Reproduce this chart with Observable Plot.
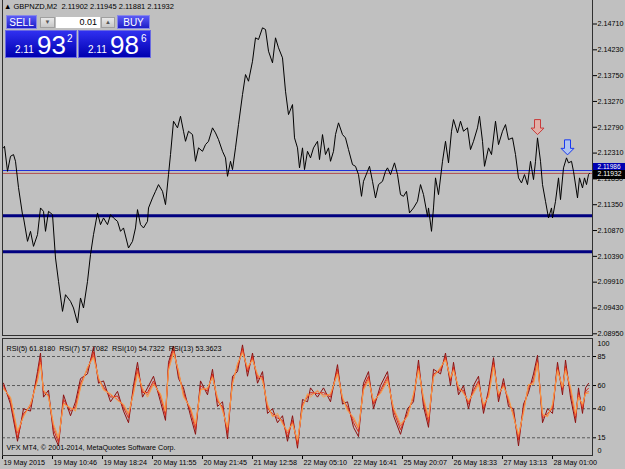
<!DOCTYPE html>
<html><head><meta charset="utf-8">
<script src="https://cdn.jsdelivr.net/npm/d3@7"></script>
<script src="https://cdn.jsdelivr.net/npm/@observablehq/plot@0.6"></script>
<style>
body{margin:0;background:#c0c0c0;}
#wrap{position:relative;width:625px;height:469px;background:#c0c0c0;overflow:hidden;font-family:"Liberation Sans",Arial,sans-serif;}
#wrap svg{position:absolute;left:0;}
.a{position:absolute;box-sizing:border-box;}
.btn{background:linear-gradient(#5a5af5,#1e1ec8);color:#fff;font-size:10px;text-align:center;line-height:13px;border:1px solid #8888e8;}
.small{background:linear-gradient(#e8e8e8,#c8c8c8);border:1px solid #a0a0a0;font-size:6px;text-align:center;line-height:9px;color:#555;}
.box{background:linear-gradient(#3030f0,#0000b0);border:1px solid #6a6ae0;color:#fff;}
</style></head><body><div id="wrap"></div>
<script>
// ---- data ----
const symbolTitle = "GBPNZD,M2  2.11902 2.11945 2.11881 2.11932";
const priceTicks = [2.14710,2.14230,2.13750,2.13270,2.12790,2.12310,2.11830,2.11350,2.10870,2.10390,2.09910,2.09430,2.08950];
const priceBar = [1,2,5,8,11,13,16,20,21,25,28,31,35,38,41,43,46,50,53,56,60,63,68,71,75,78,81,85,88,91,95,98,101,105,108,111,115,118,121,126,130,133,135,138,141,145,146,150,153,156,160,163,166,168,171,175,178,181,183,186,190,193,196,200,203,206,210,213,216,220,223,225,228,230,233,236,240,243,246,250,253,256,260,263,266,270,273,276,280,283,286,290,292,295,297,300,302,305,308,311,315,317,320,323,326,328,331,333,336,340,343,346,350,353,356,359,361,365,367,370,373,376,380,383,385,388,392,395,398,401,404,407,411,415,418,421,425,426,429,431,433,436,440,443,446,449,451,455,458,461,465,468,471,475,477,480,482,486,489,493,496,500,503,506,510,513,516,519,522,525,528,531,533,535,538,540,543,546,549,550,553,556,558,561,564,566,569,571,575,577,580,582,584,586,587];
const priceClose = [2.12407,2.12436,2.11971,2.12250,2.12282,2.12157,2.11668,2.11166,2.11110,2.10669,2.10855,2.10576,2.10794,2.11290,2.11227,2.10855,2.11227,2.11166,2.10360,2.09925,2.09367,2.09677,2.09553,2.09430,2.09151,2.09616,2.09430,2.09925,2.10422,2.10794,2.11197,2.10980,2.11104,2.10980,2.11166,2.11104,2.11041,2.10855,2.10918,2.10546,2.10669,2.10918,2.11259,2.10980,2.10918,2.11041,2.11290,2.11476,2.11599,2.11724,2.11599,2.11352,2.11910,2.12282,2.12902,2.12779,2.12995,2.12716,2.12529,2.12716,2.12654,2.12157,2.12407,2.12343,2.12468,2.12529,2.12779,2.12686,2.12561,2.12343,2.12221,2.11878,2.12157,2.12003,2.12407,2.12840,2.13398,2.13770,2.13646,2.14018,2.14453,2.14422,2.14639,2.14608,2.14204,2.13988,2.14453,2.14267,2.14081,2.13460,2.13026,2.13212,2.12593,2.12407,2.12035,2.12407,2.12003,2.12343,2.12221,2.12407,2.12529,2.12189,2.12654,2.12282,2.12407,2.12157,2.12343,2.12654,2.12872,2.12654,2.12593,2.12375,2.12096,2.12064,2.11910,2.11506,2.11785,2.11971,2.12064,2.11785,2.11476,2.11724,2.11785,2.11971,2.12035,2.11910,2.12128,2.11910,2.11538,2.11506,2.11599,2.11197,2.11290,2.11413,2.11724,2.11538,2.11134,2.11290,2.10855,2.11290,2.11849,2.11538,2.12157,2.12529,2.12128,2.12716,2.12933,2.12686,2.12902,2.12716,2.12779,2.12375,2.12529,2.12779,2.12995,2.12529,2.12064,2.12407,2.12282,2.12902,2.12468,2.12716,2.12840,2.12561,2.12593,2.12282,2.11849,2.11755,2.11910,2.11724,2.12157,2.11817,2.12157,2.12593,2.12157,2.11724,2.11413,2.11104,2.11290,2.11104,2.11413,2.11849,2.11445,2.12035,2.12221,2.12128,2.12157,2.11971,2.11476,2.11849,2.11662,2.11849,2.11724,2.11910,2.11932];
const supportLevels = [2.11147, 2.10477];
const bidPrice = 2.11932, askPrice = 2.11986;
const arrowBar = [535, 565];
const arrowPrice = [2.12654, 2.12277];
const arrowKind = ["sell", "buy"];

const rsiLevels = [85, 60, 40, 15];
const rsiBar = [1,8,15,21,28,35,38,41,46,51,56,61,68,73,78,85,91,96,101,108,115,121,126,131,135,140,145,151,158,163,166,171,176,181,188,193,198,205,210,215,220,225,230,235,240,245,250,255,260,265,270,275,280,285,290,295,300,305,308,315,321,328,335,340,345,351,356,361,366,371,378,385,391,398,405,411,416,421,426,431,438,443,448,451,456,461,466,471,476,481,486,491,496,501,506,511,516,521,526,531,535,540,545,550,555,560,563,568,573,576,580,583,586];
const rsi5 = [62,44,12,40,38,72,88,50,56,18,8,52,34,46,66,70,93,62,64,46,55,38,28,60,80,50,58,68,46,30,80,94,66,58,34,18,64,52,74,42,46,14,68,72,95,68,88,62,72,36,40,28,34,12,34,6,48,46,58,50,58,46,78,44,46,24,16,62,72,40,60,72,34,18,40,46,82,42,24,74,70,88,60,80,52,60,40,60,68,36,56,84,46,66,42,40,8,44,54,70,86,28,40,36,80,52,82,50,28,58,36,58,61.818];
const rsi7 = [60,47,15,36,42,68,84,54,52,22,11,48,38,42,62,74,89,65,59,50,51,41,32,56,75,54,54,64,50,34,77,92,70,54,38,22,60,55,70,46,42,19,64,76,92,72,85,66,68,40,36,32,30,16,30,9,44,50,54,53,54,50,74,47,42,28,20,59,68,44,56,68,38,22,36,50,77,46,28,70,73,85,64,76,56,56,44,56,64,40,53,80,50,62,46,36,13,40,58,65,82,32,36,40,76,56,77,55,32,54,40,55,57.708];
const rsi10 = [58,49,19,34,44,65,80,56,51,25,14,45,40,40,59,75,86,66,57,52,48,43,35,54,72,56,52,62,52,37,74,90,72,52,40,25,57,57,68,48,40,22,62,78,90,74,83,68,66,42,34,34,28,19,28,12,42,52,52,55,52,52,71,49,40,31,23,57,66,46,54,66,40,25,34,52,75,48,31,68,75,83,66,74,58,54,46,54,62,42,51,78,52,60,48,34,16,38,60,63,80,34,34,42,74,58,75,57,34,52,42,54,54.732];
const rsi13 = [57,50,21,33,44,64,78,56,50,27,15,44,41,38,58,76,84,67,56,53,47,44,36,53,70,58,50,61,53,38,73,88,73,50,41,27,56,58,67,50,38,24,61,79,88,76,82,70,64,44,33,36,27,21,27,13,41,53,50,56,50,53,70,50,38,33,24,56,64,47,53,64,41,27,33,53,73,50,33,67,76,82,67,73,59,53,47,53,61,44,50,76,53,59,50,33,18,36,61,61,79,36,33,44,73,59,73,59,36,50,44,53,53.362];
const rsiNames = ["RSI(5)", "RSI(7)", "RSI(10)", "RSI(13)"];
const rsiColors = ["#8c1010", "#d82818", "#f06038", "#f8a048"];
const rsiLegend = "RSI(5) 61.8180  RSI(7) 57.7082  RSI(10) 54.7322  RSI(13) 53.3623";
const copyright = "VFX MT4, © 2001-2014, MetaQuotes Software Corp.";
const dateTicks = [0,50,100,150,200,250,300,350,400,450,500,550];
const dateLabels = ["19 May 2015","19 May 10:46","19 May 18:24","20 May 11:55","20 May 21:45","21 May 12:58","22 May 05:10","22 May 16:41","25 May 20:07","26 May 18:33","27 May 13:13","28 May 01:00"];

// ---- build ----
const FONT = '"Liberation Sans", Arial, sans-serif';
const lastBar = 590;
const prices = priceBar.map((b, i) => ({bar: b, close: priceClose[i]}));
const arrows = arrowBar.map((b, i) => ({bar: b, price: arrowPrice[i], kind: arrowKind[i]}));
const downArrow = {
  draw(ctx, size) {
    const s = Math.sqrt(size / Math.PI) / 7;
    ctx.moveTo(0, 0);
    ctx.lineTo(6.5 * s, -6.5 * s);
    ctx.lineTo(3 * s, -6.5 * s);
    ctx.lineTo(3 * s, -15 * s);
    ctx.lineTo(-3 * s, -15 * s);
    ctx.lineTo(-3 * s, -6.5 * s);
    ctx.lineTo(-6.5 * s, -6.5 * s);
    ctx.closePath();
  }
};

const main = Plot.plot({
  width: 625, height: 336,
  marginLeft: 2, marginRight: 33, marginTop: -2, marginBottom: 1,
  style: {background: "transparent", fontFamily: FONT, fontSize: "7.2px", color: "#000", overflow: "visible"},
  x: {domain: [0, lastBar], axis: null},
  y: {domain: [2.0895, 2.1471], range: [333.3, 23.5], axis: "right", ticks: priceTicks,
      tickFormat: d3.format(".5f"), tickSize: 4, tickPadding: 1, label: null},
  marks: [
    Plot.ruleY(supportLevels, {stroke: "#000080", strokeWidth: 3}),
    Plot.ruleY([askPrice], {stroke: "#2030d8", strokeWidth: 1}),
    Plot.ruleY([bidPrice], {stroke: "#b05050", strokeWidth: 1}),
    Plot.line(prices, {x: "bar", y: "close", stroke: "#000", strokeWidth: 1}),
    Plot.dot(arrows, {x: "bar", y: "price", symbol: downArrow, r: 7,
      fill: d => d.kind === "sell" ? "#e2b0a8" : "#b0c4f0",
      stroke: d => d.kind === "sell" ? "#c83a3a" : "#1838f0", strokeWidth: 1}),
    Plot.ruleY([askPrice], {x1: lastBar, x2: lastBar + 33, stroke: "#0000b0", strokeWidth: 9, dy: -3}),
    Plot.text([askPrice], {x: lastBar, y: d => d, text: d => d.toFixed(5), fill: "#fff", textAnchor: "start", dx: 5, dy: -4, fontSize: 6.5}),
    Plot.ruleY([bidPrice], {x1: lastBar, x2: lastBar + 33, stroke: "#000", strokeWidth: 9, dy: 1}),
    Plot.text([bidPrice], {x: lastBar, y: d => d, text: d => d.toFixed(5), fill: "#fff", textAnchor: "start", dx: 5, dy: 0.5, fontSize: 6.8}),
    Plot.frame({stroke: "#303030"})
  ]
});
main.style.top = "0px";

const rsiData = [];
[rsi5, rsi7, rsi10, rsi13].forEach((arr, k) => arr.forEach((v, i) => rsiData.push({bar: rsiBar[i], v, name: rsiNames[k]})));

const rsi = Plot.plot({
  width: 625, height: 133,
  marginLeft: 2, marginRight: 33, marginTop: 2, marginBottom: 14,
  style: {background: "transparent", fontFamily: FONT, fontSize: "7.2px", color: "#000", overflow: "visible"},
  x: {domain: [0, lastBar], ticks: dateTicks, tickFormat: () => "", tickSize: 4, label: null},
  y: {domain: [0, 100], range: [118.7, 2.6], axis: "right", ticks: rsiLevels, tickSize: 3, tickPadding: 2, label: null},
  color: {domain: rsiNames, range: rsiColors},
  marks: [
    Plot.ruleY(rsiLevels, {stroke: "#5a5a5a", strokeDasharray: "3,2"}),
    Plot.line(rsiData, {x: "bar", y: "v", z: "name", stroke: "name", strokeWidth: 1}),
    Plot.text([100], {y: d => d, frameAnchor: "right", text: d => String(d), textAnchor: "start", dx: 5, dy: 5}),
    Plot.text([0], {y: d => d, frameAnchor: "right", text: d => String(d), textAnchor: "start", dx: 5, dy: -5}),
    Plot.text(dateLabels, {x: (d, i) => dateTicks[i], frameAnchor: "bottom", text: d => d, textAnchor: "start", dx: 1, dy: 9}),
    Plot.text([rsiLegend], {frameAnchor: "top-left", text: d => d, dx: 4, dy: 7, fill: "#000"}),
    Plot.text([copyright], {frameAnchor: "bottom-left", text: d => d, dx: 4, dy: -6, fill: "#000"}),
    Plot.frame({stroke: "#303030"})
  ]
});
rsi.style.top = "336px";

const wrap = document.getElementById("wrap");
wrap.appendChild(main);
wrap.appendChild(rsi);

// title and one-click trading panel
wrap.insertAdjacentHTML("beforeend", `
<div class="a" style="left:4px;top:2px;font-size:7.5px;color:#000;white-space:pre">▲ ${symbolTitle}</div>
<div class="a btn" style="left:6px;top:15px;width:31px;height:14px;">SELL</div>
<div class="a small" style="left:40px;top:17px;width:15px;height:11px;">▼</div>
<div class="a" style="left:56px;top:17px;width:44px;height:11px;background:#fff;font-size:9px;line-height:11px;text-align:right;padding-right:3px;">0.01</div>
<div class="a small" style="left:101px;top:17px;width:14px;height:11px;">▲</div>
<div class="a btn" style="left:117px;top:15px;width:33px;height:14px;">BUY</div>
<div class="a box" style="left:5px;top:30px;width:72px;height:28px;">
  <span class="a" style="left:9px;top:13px;font-size:10px;">2.11</span>
  <span class="a" style="left:31px;top:-1px;font-size:26px;">93</span>
  <span class="a" style="left:61px;top:2px;font-size:10px;">2</span>
</div>
<div class="a box" style="left:78px;top:30px;width:73px;height:28px;">
  <span class="a" style="left:9px;top:13px;font-size:10px;">2.11</span>
  <span class="a" style="left:31px;top:-1px;font-size:26px;">98</span>
  <span class="a" style="left:62px;top:2px;font-size:10px;">6</span>
</div>`);
</script>
</body></html>
